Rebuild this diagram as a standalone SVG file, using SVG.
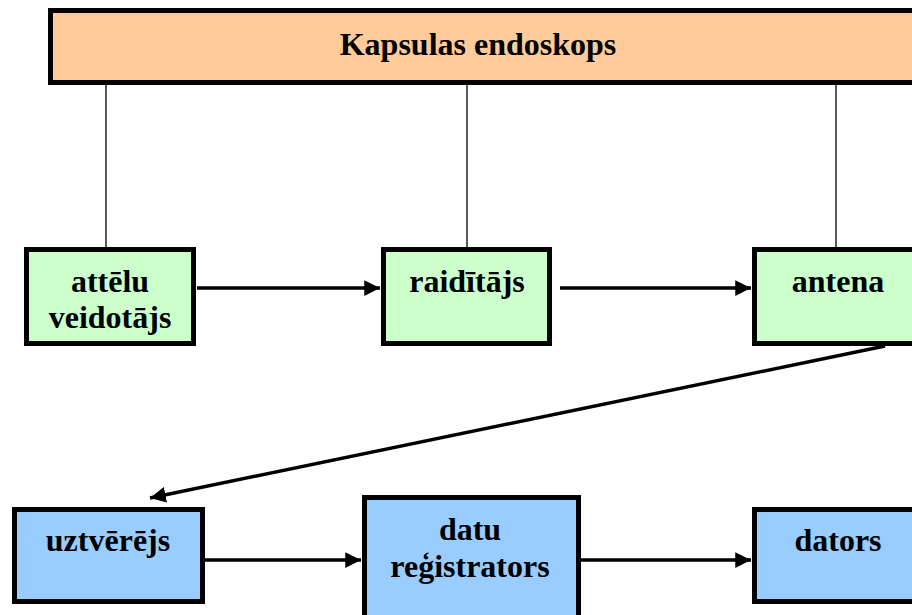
<svg xmlns="http://www.w3.org/2000/svg" width="912" height="615" viewBox="0 0 912 615">
<defs>
<marker id="ah" viewBox="0 0 10 10" refX="10" refY="5" markerWidth="4.5" markerHeight="4.5" markerUnits="strokeWidth" orient="auto">
<path d="M0,0 L10,5 L0,10 z" fill="#000"/>
</marker>
<style>
.t{font-family:"Liberation Serif","Times New Roman",serif;font-weight:bold;font-size:32px;text-anchor:middle;fill:#000}
.box{stroke:#000;stroke-width:5}
.g{fill:#ccffcc}
.b{fill:#99ccff}
.thin{stroke:#000;stroke-width:1.3;fill:none}
.arr{stroke:#000;stroke-width:3.5;fill:none;marker-end:url(#ah)}
</style>
</defs>
<rect width="912" height="615" fill="#fff"/>
<g id="connectors">
<line class="thin" x1="106" y1="83" x2="106" y2="248"/>
<line class="thin" x1="467" y1="83" x2="467" y2="248"/>
<line class="thin" x1="836" y1="83" x2="836" y2="248"/>
<line class="arr" x1="197" y1="288" x2="380" y2="288"/>
<line class="arr" x1="560" y1="288" x2="751" y2="288"/>
<line class="arr" x1="885" y1="346" x2="150" y2="498"/>
<line class="arr" x1="205" y1="560" x2="361" y2="560"/>
<line class="arr" x1="581" y1="560" x2="751" y2="560"/>
</g>
<g id="kapsula">
<rect class="box" x="50.5" y="10.5" width="870" height="72" fill="#ffcc99"/>
<text class="t" x="478" y="55">Kapsulas endoskops</text>
</g>
<g id="atteli">
<rect class="box g" x="26.5" y="249.5" width="167" height="94"/>
<text class="t" x="110" y="292">attēlu</text>
<text class="t" x="110" y="328">veidotājs</text>
</g>
<g id="raiditajs">
<rect class="box g" x="383.5" y="249.5" width="166" height="94"/>
<text class="t" x="467" y="292">raidītājs</text>
</g>
<g id="antena">
<rect class="box g" x="754.5" y="249.5" width="170" height="94"/>
<text class="t" x="838" y="292">antena</text>
</g>
<g id="uztverejs">
<rect class="box b" x="14.5" y="509.5" width="188" height="92"/>
<text class="t" x="108" y="551">uztvērējs</text>
</g>
<g id="registrators">
<rect class="box b" x="364.5" y="497.5" width="214" height="125"/>
<text class="t" x="470" y="540">datu</text>
<text class="t" x="470" y="577">reģistrators</text>
</g>
<g id="dators">
<rect class="box b" x="754.5" y="509.5" width="170" height="92"/>
<text class="t" x="838" y="551">dators</text>
</g>
</svg>
